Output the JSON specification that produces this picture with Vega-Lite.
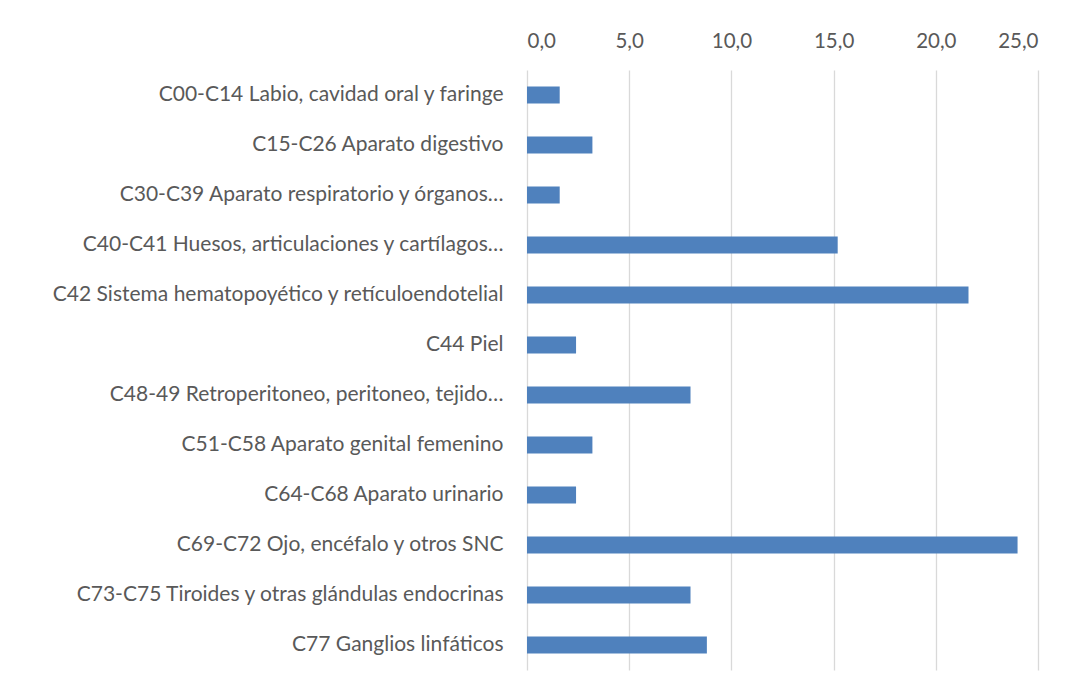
{
  "$schema": "https://vega.github.io/schema/vega-lite/v6.json",
  "width": 511,
  "height": 600,
  "autosize": {"type": "none"},
  "padding": {"left": 527, "top": 70, "right": 37, "bottom": 21},
  "background": "white",
  "config": {"view": {"stroke": null}, "font": "Lato"},
  "data": {
    "values": [
      {"categoria": "C00-C14 Labio, cavidad oral y faringe", "valor": 1.6},
      {"categoria": "C15-C26 Aparato digestivo", "valor": 3.2},
      {"categoria": "C30-C39 Aparato respiratorio y órganos…", "valor": 1.6},
      {"categoria": "C40-C41 Huesos, articulaciones y cartílagos…", "valor": 15.2},
      {"categoria": "C42 Sistema hematopoyético y retículoendotelial", "valor": 21.6},
      {"categoria": "C44 Piel", "valor": 2.4},
      {"categoria": "C48-49 Retroperitoneo, peritoneo, tejido…", "valor": 8.0},
      {"categoria": "C51-C58 Aparato genital femenino", "valor": 3.2},
      {"categoria": "C64-C68 Aparato urinario", "valor": 2.4},
      {"categoria": "C69-C72 Ojo, encéfalo y otros SNC", "valor": 24.0},
      {"categoria": "C73-C75 Tiroides y otras glándulas endocrinas", "valor": 8.0},
      {"categoria": "C77 Ganglios linfáticos", "valor": 8.8}
    ]
  },
  "mark": {"type": "bar", "color": "#4F81BD"},
  "encoding": {
    "y": {
      "field": "categoria",
      "type": "nominal",
      "sort": null,
      "scale": {"paddingInner": 0.66, "paddingOuter": 0.33},
      "axis": {
        "title": null,
        "domain": false,
        "ticks": false,
        "labelPadding": 24,
        "labelFontSize": 21,
        "labelColor": "#595959",
        "labelLimit": 600,
        "labelFont": "Lato"
      }
    },
    "x": {
      "field": "valor",
      "type": "quantitative",
      "scale": {"domain": [0, 25], "nice": false},
      "axis": {
        "orient": "top",
        "title": null,
        "values": [0, 5, 10, 15, 20, 25],
        "labelExpr": "replace(format(datum.value, '.1f'), '.', ',')",
        "domain": false,
        "ticks": false,
        "grid": true,
        "gridColor": "#D9D9D9",
        "gridWidth": 1.3,
        "labelPadding": 19,
        "labelFontSize": 20.5,
        "labelColor": "#595959",
        "labelFont": "Lato"
      }
    }
  }
}
